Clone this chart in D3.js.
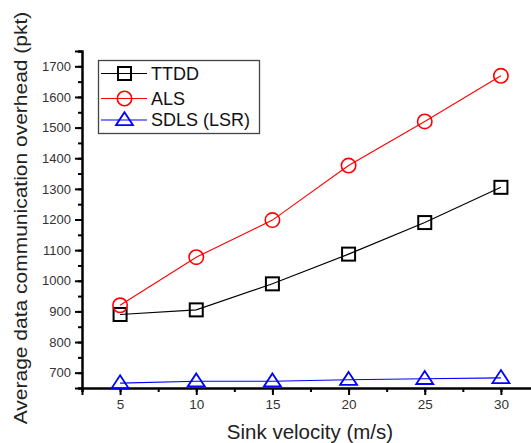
<!DOCTYPE html>
<html>
<head>
<meta charset="utf-8">
<script src="https://cdn.jsdelivr.net/npm/d3@7/dist/d3.min.js"></script>
<style>
  html, body { margin: 0; padding: 0; background: #fff; }
  svg { display: block; font-family: "Liberation Sans", Arial, sans-serif; }
</style>
</head>
<body>
<svg id="chart" width="531" height="443"></svg>
<script>
const velocities = [5, 10, 15, 20, 25, 30];
const ttdd = [890, 905, 990, 1087, 1190, 1305];
const als = [920, 1077, 1198, 1376, 1520, 1669];
const sdls = [666, 672, 672, 677, 680, 683];
const seriesNames = ["TTDD", "ALS", "SDLS (LSR)"];
const seriesColors = ["#000000", "#ff0000", "#0000ff"];
const seriesShapes = ["square", "circle", "triangle"];
const xTicks = [5, 10, 15, 20, 25, 30];
const yTicks = [700, 800, 900, 1000, 1100, 1200, 1300, 1400, 1500, 1600, 1700];
const xTitle = "Sink velocity (m/s)";
const yTitle = "Average data communication overhead (pkt)";

const svg = d3.select("#chart");
const x = d3.scaleLinear().domain([2.5, 32.5]).range([82, 539]);
const y = d3.scaleLinear().domain([650, 1750]).range([388, 51]);

const series = [ttdd, als, sdls].map((vals, i) => ({
  name: seriesNames[i], color: seriesColors[i], shape: seriesShapes[i],
  points: vals.map((v, j) => ({ x: velocities[j], y: v }))
}));

function marker(g, shape, color, cx, cy) {
  if (shape === "square") {
    g.append("rect").attr("x", cx - 6.5).attr("y", cy - 6.5).attr("width", 13).attr("height", 13)
      .attr("fill", "none").attr("stroke", color).attr("stroke-width", 2);
  } else if (shape === "circle") {
    g.append("circle").attr("cx", cx).attr("cy", cy).attr("r", 7.2)
      .attr("fill", "none").attr("stroke", color).attr("stroke-width", 1.6);
  } else {
    const w = 8.5, h = 13;
    g.append("path")
      .attr("d", `M${cx},${cy - h * 0.6} L${cx + w},${cy + h * 0.4} L${cx - w},${cy + h * 0.4} Z`)
      .attr("fill", "none").attr("stroke", color).attr("stroke-width", 1.8);
  }
}

// Axes
const xAxisMinor = d3.axisBottom(x).tickValues(d3.range(2.5, 33, 2.5)).tickSize(4).tickFormat("");
const xAxis = d3.axisBottom(x).tickValues(xTicks).tickSize(7).tickPadding(4).tickFormat(d3.format("d"));
const yAxisMinor = d3.axisLeft(y).tickValues(d3.range(650, 1751, 50)).tickSize(4).tickFormat("");
const yAxis = d3.axisLeft(y).tickValues(yTicks).tickSize(7).tickPadding(4).tickFormat(d3.format("d"));

function styleAxis(g, size) {
  g.select(".domain").attr("stroke", "#000").attr("stroke-width", 2);
  g.selectAll(".tick line").attr("stroke", "#000").attr("stroke-width", 2);
  g.selectAll(".tick text").attr("fill", "#333").attr("font-size", size)
    .attr("font-family", "'Liberation Sans', Arial, sans-serif");
}

svg.append("g").attr("transform", "translate(0,388)").call(xAxisMinor).call(styleAxis, 13.5);
svg.append("g").attr("transform", "translate(0,388)").call(xAxis).call(styleAxis, 13.5);
svg.append("g").attr("transform", "translate(82,0)").call(yAxisMinor).call(styleAxis, 13);
svg.append("g").attr("transform", "translate(82,0)").call(yAxis).call(styleAxis, 13);

// Lines
const line = d3.line().x(d => x(d.x)).y(d => y(d.y));
series.forEach(s => {
  svg.append("path").datum(s.points).attr("d", line)
    .attr("fill", "none").attr("stroke", s.color).attr("stroke-width", 1.1);
});
series.forEach(s => {
  const g = svg.append("g");
  s.points.forEach(p => marker(g, s.shape, s.color, x(p.x), y(p.y)));
});

// Legend
const lg = svg.append("g");
lg.append("rect").attr("x", 98.5).attr("y", 60.5).attr("width", 161).attr("height", 73)
  .attr("fill", "#fff").attr("stroke", "#444").attr("stroke-width", 1.3);
const legendY = [73.5, 98.5, 120];
series.forEach((s, i) => {
  lg.append("line").attr("x1", 101).attr("x2", 147).attr("y1", legendY[i]).attr("y2", legendY[i])
    .attr("stroke", s.color).attr("stroke-width", 1.1);
  marker(lg, s.shape, s.color, 124.5, legendY[i]);
  lg.append("text").attr("x", 151).attr("y", legendY[i]).attr("dy", "0.36em")
    .attr("font-size", 18).attr("fill", "#111").text(s.name);
});

// Titles
svg.append("text").attr("x", 310).attr("y", 439).attr("text-anchor", "middle")
  .attr("font-size", 20.5).attr("fill", "#222").text(xTitle);
svg.append("text").attr("transform", "translate(27,218) rotate(-90) scale(1,0.88)").attr("text-anchor", "middle")
  .attr("font-size", 21).attr("fill", "#222").text(yTitle);
</script>
</body>
</html>
